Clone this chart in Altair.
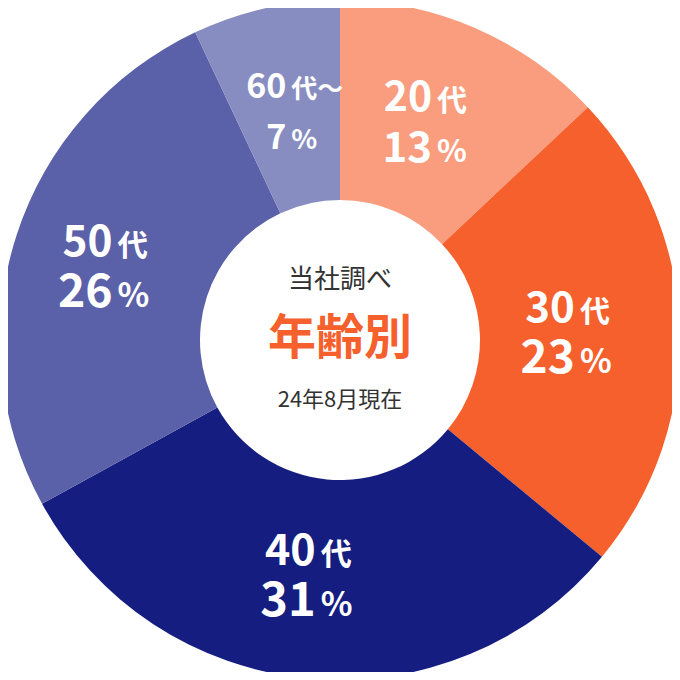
import altair as alt
import pandas as pd

# ---- data ----
ages = ["20代", "30代", "40代", "50代", "60代～"]
age_nums = ["20", "30", "40", "50", "60"]
age_suffix = ["代", "代", "代", "代", "代～"]
shares = [13, 23, 31, 26, 7]
colors = ["#F99D7E", "#F6602D", "#151E80", "#5B61A8", "#878DC0"]
center_lines = ["当社調べ", "年齢別", "24年8月現在"]

df = pd.DataFrame({
    "age": ages,
    "num": age_nums,
    "suf": age_suffix,
    "pct": shares,
    "idx": list(range(len(ages))),
})
df["pct_num"] = df["pct"].astype(str)
df["pct_suf"] = "%"

FONT = "Noto Sans CJK JP"
R_LABEL = 237

base = alt.Chart(df).encode(
    theta=alt.Theta("pct:Q", stack=True),
    order=alt.Order("idx:Q"),
)

arc = base.mark_arc(innerRadius=140, outerRadius=340).encode(
    color=alt.Color("age:N", scale=alt.Scale(domain=ages, range=colors), legend=None)
)


def label_layer(field, align, dy, dx, size_range):
    return base.mark_text(
        radius=R_LABEL, align=align, baseline="alphabetic", dy=dy, dx=dx,
        font=FONT, fontWeight="bold", color="white",
    ).encode(
        text=alt.Text(f"{field}:N"),
        detail="age:N",
        size=alt.Size("pct:Q", scale=alt.Scale(domain=[7, 13, 23, 31], range=size_range), legend=None),
    )


l1_num = label_layer("num", "right", -11, -2, [34, 41, 42, 43])
l1_suf = label_layer("suf", "left", -11, 3, [26, 30, 30, 31])
l2_num = label_layer("pct_num", "right", 40, -2, [34, 42, 46, 47])
l2_suf = label_layer("pct_suf", "left", 40, 3, [27, 31, 33, 33])


def center(i, size, dy, color, weight):
    return alt.Chart(pd.DataFrame({"t": [center_lines[i]]})).mark_text(
        font=FONT, fontSize=size, dy=dy, color=color, fontWeight=weight,
        baseline="middle", align="center",
    ).encode(text="t:N")


c1 = center(0, 26, -60, "#333333", "normal")
c2 = center(1, 48, 0, "#F6602D", "bold")
c3 = center(2, 22, 60, "#333333", "normal")

chart = alt.layer(arc, l1_num, l1_suf, l2_num, l2_suf, c1, c2, c3).resolve_scale(
    size="independent"
).properties(
    width=664, height=664, padding=0, autosize=alt.AutoSizeParams(type="none"),
    background="white",
).configure_view(stroke=None)

chart.save("out.html", embed_options={"renderer": "svg", "actions": False})
